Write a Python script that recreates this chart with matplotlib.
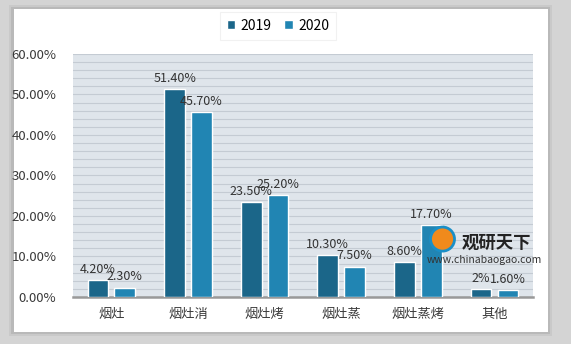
import numpy as np
import matplotlib.pyplot as plt
from matplotlib.patches import Rectangle, Ellipse
from matplotlib.ticker import FuncFormatter, MultipleLocator

plt.rcParams['font.family'] = ['Noto Sans CJK SC', 'DejaVu Sans']

# data
categories = ['烟灶', '烟灶消', '烟灶烤', '烟灶蒸', '烟灶蒸烤', '其他']
values_2019 = [4.20, 51.40, 23.50, 10.30, 8.60, 2.0]
values_2020 = [2.30, 45.70, 25.20, 7.50, 17.70, 1.60]
labels_2019 = ['4.20%', '51.40%', '23.50%', '10.30%', '8.60%', '2%']
labels_2020 = ['2.30%', '45.70%', '25.20%', '7.50%', '17.70%', '1.60%']
series_names = ['2019', '2020']

c19 = '#1b6689'
c20 = '#2185b3'

fig = plt.figure(figsize=(5.71, 3.44), dpi=100)
fig.patch.set_facecolor('#d4d4d4')

# white panel with a soft shadow
for i, a in enumerate([0.05, 0.08, 0.12]):
    fig.patches.append(Rectangle((0.024 - 0.004 * (2 - i), 0.034 - 0.006 * (2 - i)),
                                 0.935 + 0.008 * (2 - i), 0.94 + 0.012 * (2 - i),
                                 transform=fig.transFigure, facecolor='black',
                                 alpha=a, edgecolor='none', zorder=-10))
fig.patches.append(Rectangle((0.024, 0.034), 0.935, 0.94, transform=fig.transFigure,
                             facecolor='white', edgecolor='none', zorder=-9))

ax = fig.add_axes([0.128, 0.137, 0.805, 0.706])
ax.set_facecolor('#dfe5eb')

x = np.arange(len(categories))
w = 0.27
b1 = ax.bar(x - 0.175, values_2019, w, color=c19, edgecolor='white', linewidth=1, label=series_names[0], zorder=3)
b2 = ax.bar(x + 0.175, values_2020, w, color=c20, edgecolor='white', linewidth=1, label=series_names[1], zorder=3)

for bars, labs in [(b1, labels_2019), (b2, labels_2020)]:
    for r, t in zip(bars, labs):
        ax.annotate(t, (r.get_x() + r.get_width() / 2, r.get_height()),
                    xytext=(0, 3), textcoords='offset points', ha='center', va='bottom',
                    fontsize=9, color='#333333', zorder=5)

ax.set_ylim(0, 60)
ax.set_xlim(-0.5, len(categories) - 0.5)
ax.yaxis.set_major_locator(MultipleLocator(10))
ax.yaxis.set_minor_locator(MultipleLocator(2))
ax.yaxis.set_major_formatter(FuncFormatter(lambda v, p: f'{v:.2f}%'))
ax.grid(axis='y', which='both', color='#c4cbd3', linewidth=0.8, zorder=0)
ax.set_axisbelow(True)
ax.set_xticks(x)
ax.set_xticklabels(categories)
ax.tick_params(axis='both', which='both', length=0, labelsize=9.5, colors='#3a3a3a')
ax.tick_params(axis='y', pad=12)
ax.tick_params(axis='x', pad=8)
for s in ['top', 'right', 'left']:
    ax.spines[s].set_visible(False)
ax.spines['bottom'].set_color('#999999')
ax.spines['bottom'].set_linewidth(1.8)

leg = fig.legend(loc='center', bbox_to_anchor=(0.487, 0.925), ncol=2, frameon=True,
                 fontsize=10, handlelength=0.6, handleheight=0.6, handletextpad=0.4,
                 columnspacing=0.9, borderpad=0.5, fancybox=False)
leg.get_frame().set_edgecolor('#eeeeee')
leg.get_frame().set_linewidth(0.8)

# watermark
fig.text(0.808, 0.295, '观研天下', fontsize=12.5, fontweight='bold', color='#222222', ha='left', va='center', zorder=6)
fig.text(0.747, 0.245, 'www.chinabaogao.com', fontsize=7.5, color='#333333', ha='left', va='center', zorder=6)
fig.patches.append(Ellipse((0.775, 0.305), 0.042, 0.07, transform=fig.transFigure,
                           facecolor='#f08a1c', edgecolor='#1a8fc7', linewidth=2, zorder=6))

fig.savefig('out.png', dpi=100)
